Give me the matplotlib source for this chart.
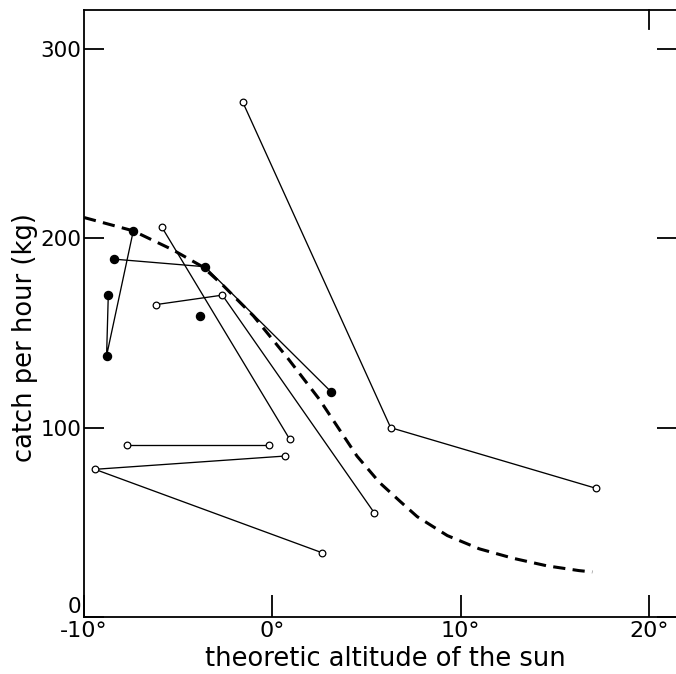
import numpy as np
import matplotlib.pyplot as plt

# open circle series (each list = one connected set)
open_x = [[-1.57, 6.29, 17.19],
          [-5.87, 0.92],
          [-6.18, -2.65, 5.42],
          [-7.73, -0.16],
          [0.66, -9.42, 2.63]]
open_y = [[272, 100, 68],
          [206, 94],
          [165, 170, 55],
          [91, 91],
          [85, 78, 34]]

# filled circle series
fill_x = [[-8.71, -8.80, -7.38],
          [-8.39, -3.57, 3.12],
          [-3.82]]
fill_y = [[170, 138, 204],
          [189, 185, 119],
          [159]]

# dashed curve
curve_x = [-10, -7.4, -5.3, -3.7, -2.6, -1.0, 0.8, 2.5, 4.5, 5.7, 6.8, 7.7,
           9.3, 11.0, 12.8, 14.6, 16.3, 17.0]
curve_y = [211, 204, 194, 185, 175, 159, 137, 115, 85, 71, 61, 53,
           43, 36, 31, 27, 24.5, 23.8]

xticks = [-10, 0, 10, 20]
xlabels = ['-10°', '0°', '10°', '20°']
yticks = [0, 100, 200, 300]

fig = plt.figure(figsize=(6.76, 6.74), dpi=100)
ax = fig.add_axes([84/676, 57/674, 593/676, 607/674])

ax.plot(curve_x, curve_y, color='black', lw=2.2, dashes=[4, 2.4], zorder=1)

for xs, ys in zip(open_x, open_y):
    ax.plot(xs, ys, color='black', lw=0.95, marker='o', ms=4.8,
            mfc='white', mec='black', mew=0.9, zorder=2)
for xs, ys in zip(fill_x, fill_y):
    ax.plot(xs, ys, color='black', lw=0.95, marker='o', ms=5.8,
            mfc='black', mec='black', zorder=2)

ax.set_xlim(-10, 21.5)
ax.set_ylim(0, 320.6)

ax.set_xticks(xticks)
ax.set_xticklabels(xlabels, fontsize=16)
ax.set_yticks(yticks)
ax.set_yticklabels([str(v) for v in yticks], fontsize=15.5)
ax.tick_params(axis='both', direction='in', width=1.3)
ax.tick_params(axis='x', length=16, pad=3)
ax.tick_params(axis='y', length=14.5, right=True, pad=2)
ax.get_yticklabels()[0].set_va('bottom')

# single tick on top at 20 deg
ax.plot([20, 20], [320.6, 310.5], color='black', lw=1.3, clip_on=False)

for s in ax.spines.values():
    s.set_linewidth(1.3)
ax.spines['right'].set_visible(False)

ax.set_xlabel('theoretic altitude of the sun', fontsize=18.5)
ax.set_ylabel('catch per hour (kg)', fontsize=18.5)
ax.xaxis.set_label_coords(0.509, -0.048)
ax.yaxis.set_label_coords(-0.077, 0.46)

fig.savefig('out.png', dpi=100)
